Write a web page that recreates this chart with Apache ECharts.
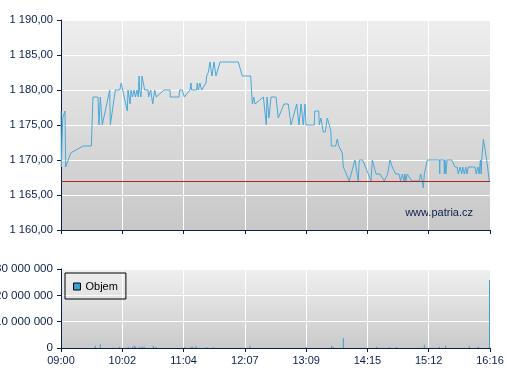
<!DOCTYPE html>
<html><head><meta charset="utf-8">
<script src="https://cdn.jsdelivr.net/npm/echarts@6/dist/echarts.min.js"></script>
<style>html,body{margin:0;padding:0;background:#fff}#c{width:507px;height:380px}</style>
</head><body><div id="c"></div>
<script>
const timeLabels = ['09:00','10:02','11:04','12:07','13:09','14:15','15:12','16:16'];
const priceX = [0,0.3,1.7,3.9,4.6,9.5,21.5,29.7,31.3,36.2,
37.2,38.5,39.5,40.4,47.7,48.3,53.2,57.5,59.0,64.9,
65.6,67.6,68.5,70.0,71.5,72.9,74.4,75.7,76.4,77.0,
77.8,78.3,79.3,81.2,81.9,85.2,85.8,87.8,89.8,91.7,
93.3,100.8,106.7,107.0,115.5,116.2,118.7,120.7,126.3,127.2,
127.9,132.8,133.4,134.4,136.0,137.7,141.9,142.6,144.2,145.8,
147.8,149.8,151.7,155.7,173.6,177.5,185.7,187.3,188.7,189.9,
198.1,201.0,201.7,203.6,205.6,210.5,212.7,218.3,222.5,225.2,
230.8,233.0,235.0,237.2,238.9,239.9,248.0,248.4,252.3,252.9,
254.5,256.8,258.8,260.7,262.7,264.3,264.6,268.9,270.5,271.9,
273.4,275.4,276.4,278.3,282.2,287.8,291.0,292.0,295.4,303.5,
304.8,308.4,312.3,316.5,319.8,322.1,324.3,327.6,330.9,332.5,
334.1,335.8,336.7,337.7,339.0,340.9,343.3,350.7,352.1,353.7,
354.7,355.7,358.6,370.4,370.8,371.0,375.0,375.3,375.9,376.9,
377.9,382.5,385.7,387.7,389.0,390.7,392.3,393.3,394.9,396.3,
397.5,398.8,405.3,406.6,408.0,409.3,410.6,411.3,411.9,413.5,
416.8,419.3];
const priceY = [1177,1169,1176,1177,1169,1171,1172,1172,1179,1179,
1175,1179,1179,1175,1180,1175,1180,1180,1181,1177,
1180,1178,1180,1179,1180,1179,1180,1179,1182,1180,
1180,1179,1182,1182,1180,1180,1179,1180,1178,1180,
1179,1180,1180,1179,1179,1180,1180,1179,1180,1181,
1180,1180,1181,1180,1181,1180,1181,1182,1182.5,1184,
1182,1184,1182,1184,1184,1182,1182,1178,1179,1178,
1179,1175,1179,1176,1179,1179,1176,1178,1178,1175,
1178,1175,1178,1175,1178,1175,1175,1177,1177,1175,
1176,1174,1174,1176,1175,1174,1172,1172,1173,1172,
1172,1171,1169,1169,1167,1170,1167,1170,1170,1167,
1170,1168,1168,1167,1168,1170,1169,1168,1168,1167,
1168,1167,1168,1167,1168,1168,1167,1167,1168,1167,
1166,1168,1170,1170,1168,1170,1170,1168,1170,1168,
1170,1170,1169,1169,1168,1169,1168,1169,1168,1169,
1168,1169,1169,1168,1169,1168,1170,1168,1170,1173,
1170,1167];
const prevClose = 1167;
const volX = [33.6,38.5,57.1,65.9,70.2,71.8,73.1,77.3,79.6,81.5,
90.4,93.0,120.7,127.3,128.9,132.2,142.6,149.1,185.0,239.9,
265.0,266.6,276.4,309.1,321.4,328.6,355.7,370.4,376.6,399.7,
408.5,419.5];
const volY = [900000,1400000,500000,400000,500000,900000,500000,500000,500000,500000,
900000,400000,400000,500000,500000,800000,400000,400000,900000,400000,
900000,400000,3800000,500000,400000,400000,1200000,500000,900000,900000,
500000,25800000];

const FONT = "'Liberation Sans', Arial, sans-serif";
const NAVY = '#0b1f4e';
function grp(s){ return s.replace(/\B(?=(\d{3})+(?!\d))/g, ' '); }
function fmtPrice(v){ const p = v.toFixed(2).split('.'); return grp(p[0]) + ',' + p[1]; }
function fmtVol(v){ return grp(String(Math.round(v))); }
function bg(c1, c2){ return {type:'linear',x:0,y:0,x2:0,y2:1,colorStops:[{offset:0,color:c1},{offset:1,color:c2}]}; }

const chart = echarts.init(document.getElementById('c'), null, {renderer:'canvas'});
const xBase = {
  type:'value', min:0, max:420, interval:60,
  axisLine:{show:true, lineStyle:{color:NAVY, width:1}},
  axisTick:{show:true, length:4, lineStyle:{color:NAVY}},
  splitLine:{show:true, lineStyle:{color:'#ffffff', width:1}}
};
chart.setOption({
  animation:false,
  textStyle:{fontFamily:FONT},
  grid:[
    {left:61, top:20, width:429, height:210, show:true, borderWidth:0, outerBoundsMode:'none', backgroundColor:bg('#eeeeee','#c8c8c8')},
    {left:61, top:269, width:429, height:79, show:true, borderWidth:0, outerBoundsMode:'none', backgroundColor:bg('#efefef','#cacaca')}
  ],
  xAxis:[
    Object.assign({gridIndex:0, axisLabel:{show:false}}, xBase),
    Object.assign({gridIndex:1, axisLabel:{show:true, margin:7, fontSize:11, fontFamily:FONT, color:NAVY,
      alignMinLabel:'center', alignMaxLabel:'center', hideOverlap:false,
      formatter:v => timeLabels[Math.round(v/60)] || ''}}, xBase)
  ],
  yAxis:[
    {gridIndex:0, type:'value', min:1160, max:1190, interval:5,
     axisLine:{show:true, lineStyle:{color:NAVY}}, axisTick:{show:true, length:4, lineStyle:{color:NAVY}},
     splitLine:{show:true, lineStyle:{color:'#ffffff', width:1}},
     axisLabel:{margin:8, fontSize:11.2, fontFamily:FONT, color:NAVY, formatter:fmtPrice}},
    {gridIndex:1, type:'value', min:0, max:30000000, interval:10000000,
     axisLine:{show:true, lineStyle:{color:NAVY}}, axisTick:{show:true, length:4, lineStyle:{color:NAVY}},
     splitLine:{show:true, lineStyle:{color:'#ffffff', width:1}},
     axisLabel:{margin:8, fontSize:11.6, fontFamily:FONT, color:NAVY, formatter:fmtVol}}
  ],
  legend:{
    data:['Objem'], left:65, top:273, orient:'horizontal',
    borderColor:'#000', borderWidth:1, padding:[8,8,7,8],
    icon:'rect', itemWidth:7, itemHeight:7, itemGap:5,
    itemStyle:{borderColor:'#000', borderWidth:1},
    textStyle:{fontSize:11, color:'#000', fontFamily:FONT}
  },
  graphic:[{type:'text', right:34, top:207, style:{text:'www.patria.cz', fill:NAVY, font:"11px 'Liberation Sans', Arial, sans-serif"}}],
  series:[
    {name:'Kurz', type:'line', xAxisIndex:0, yAxisIndex:0, showSymbol:false, symbol:'none',
     data: priceX.map((x,i)=>[x, priceY[i]]),
     lineStyle:{color:'#4aa8d8', width:1}, itemStyle:{color:'#4aa8d8'},
     markLine:{silent:true, symbol:'none', label:{show:false},
       lineStyle:{color:'#b22222', width:1, type:'solid'}, data:[{yAxis:prevClose}]}},
    {name:'Objem', type:'bar', xAxisIndex:1, yAxisIndex:1, barWidth:1,
     data: volX.map((x,i)=>[x, volY[i]]),
     itemStyle:{color:'#3a9fd2'}}
  ]
});
</script></body></html>
